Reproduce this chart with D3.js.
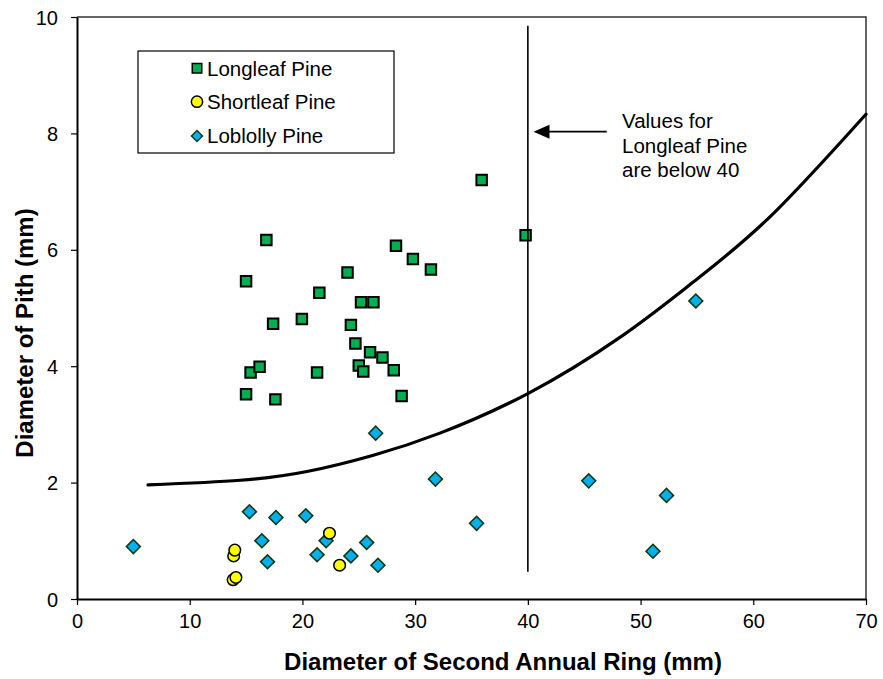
<!DOCTYPE html>
<html>
<head>
<meta charset="utf-8">
<script src="https://cdn.jsdelivr.net/npm/d3@7"></script>
<style>
  body { margin: 0; background: #fff; }
  svg { display: block; font-family: "Liberation Sans", Arial, sans-serif; }
</style>
</head>
<body>
<div id="chart"></div>
<script>
// values
var longleafX = [16.8, 15.0, 17.4, 19.95, 21.5, 24.0, 25.2, 26.3, 28.3, 29.8, 31.4, 24.3, 24.7, 26.0, 27.1, 25.0, 25.4, 28.1, 28.8, 15.4, 16.2, 21.3, 15.0, 17.6, 35.9, 39.8];
var longleafY = [6.17, 5.46, 4.73, 4.81, 5.26, 5.61, 5.10, 5.10, 6.07, 5.84, 5.66, 4.71, 4.39, 4.24, 4.15, 4.01, 3.91, 3.93, 3.49, 3.89, 3.99, 3.89, 3.52, 3.43, 7.20, 6.25];

var shortleafX = [13.9, 14.0, 13.85, 14.1, 22.4, 23.3];
var shortleafY = [0.74, 0.84, 0.33, 0.37, 1.13, 0.58];

var loblollyX = [5.0, 15.3, 17.65, 20.3, 16.4, 16.9, 22.1, 21.3, 24.3, 25.7, 26.7, 26.5, 31.8, 35.45, 45.4, 52.3, 51.1, 54.9];
var loblollyY = [0.90, 1.50, 1.40, 1.43, 1.00, 0.64, 1.00, 0.76, 0.74, 0.97, 0.58, 2.85, 2.06, 1.30, 2.03, 1.78, 0.82, 5.12];

// fitted curve
var curveX = [6.3, 14.5, 20.4, 26.3, 32.2, 40.0, 48.2, 54.7, 61.5, 70.0];
var curveY = [1.96, 2.04, 2.19, 2.47, 2.85, 3.53, 4.50, 5.45, 6.57, 8.33];

var xTicks = [0, 10, 20, 30, 40, 50, 60, 70];
var yTicks = [0, 2, 4, 6, 8, 10];

var seriesNames = ["Longleaf Pine", "Shortleaf Pine", "Loblolly Pine"];
var noteLines = ["Values for", "Longleaf Pine", "are below 40"];
var cutoffX = 40;

var width = 883, height = 679;
var margin = { top: 17, right: 17, bottom: 80, left: 77 };

var svg = d3.select("#chart").append("svg")
    .attr("width", width)
    .attr("height", height);

var x = d3.scaleLinear().domain([0, 70]).range([margin.left, width - margin.right]);
var y = d3.scaleLinear().domain([0, 10]).range([height - margin.bottom, margin.top]);

// frame top / right
svg.append("path")
    .attr("d", "M" + x(0) + "," + y(10) + "H" + x(70) + "V" + y(0))
    .attr("fill", "none")
    .attr("stroke", "#333")
    .attr("stroke-width", 1.5);

var xAxis = svg.append("g")
    .attr("transform", "translate(0," + y(0) + ")")
    .call(d3.axisBottom(x).tickValues(xTicks).tickSize(6).tickSizeOuter(0).tickPadding(9));
var yAxis = svg.append("g")
    .attr("transform", "translate(" + x(0) + ",0)")
    .call(d3.axisLeft(y).tickValues(yTicks).tickSize(6).tickSizeOuter(0).tickPadding(13));

[xAxis, yAxis].forEach(function (g) {
    g.select(".domain").attr("stroke", "#000").attr("stroke-width", 2);
    g.selectAll(".tick line").attr("stroke", "#000").attr("stroke-width", 1.2);
    g.selectAll(".tick text")
        .attr("fill", "#000")
        .style("font-family", "'Liberation Sans', Arial, sans-serif")
        .style("font-size", "20px");
});
yAxis.selectAll(".tick text").attr("dy", "0.35em");

svg.append("text")
    .attr("x", 503)
    .attr("y", 670)
    .attr("text-anchor", "middle")
    .style("font-size", "24px")
    .style("font-weight", "bold")
    .text("Diameter of Second Annual Ring (mm)");

svg.append("text")
    .attr("transform", "translate(33,333) rotate(-90)")
    .attr("text-anchor", "middle")
    .style("font-size", "24px")
    .style("font-weight", "bold")
    .text("Diameter of Pith (mm)");

// curve
var line = d3.line()
    .x(function (d) { return x(d[0]); })
    .y(function (d) { return y(d[1]); })
    .curve(d3.curveNatural);
svg.append("path")
    .datum(curveX.map(function (v, i) { return [v, curveY[i]]; }))
    .attr("d", line)
    .attr("fill", "none")
    .attr("stroke", "#000")
    .attr("stroke-width", 3.2)
    .attr("stroke-linecap", "round");

var square = d3.symbol().type(d3.symbolSquare);
var circle = d3.symbol().type(d3.symbolCircle);
var diamond = d3.symbol().type(d3.symbolSquare);

svg.append("g").selectAll("path")
    .data(loblollyX.map(function (v, i) { return [v, loblollyY[i]]; }))
    .enter().append("path")
    .attr("d", diamond.size(96))
    .attr("transform", function (d) { return "translate(" + x(d[0]) + "," + y(d[1]) + ") rotate(45)"; })
    .attr("fill", "#00B0F0")
    .attr("stroke", "#0a3d12")
    .attr("stroke-width", 1.6);

svg.append("g").selectAll("path")
    .data(shortleafX.map(function (v, i) { return [v, shortleafY[i]]; }))
    .enter().append("path")
    .attr("d", circle.size(105))
    .attr("transform", function (d) { return "translate(" + x(d[0]) + "," + y(d[1]) + ")"; })
    .attr("fill", "#FFFF00")
    .attr("stroke", "#000")
    .attr("stroke-width", 1.5);

svg.append("g").selectAll("path")
    .data(longleafX.map(function (v, i) { return [v, longleafY[i]]; }))
    .enter().append("path")
    .attr("d", square.size(110))
    .attr("transform", function (d) { return "translate(" + x(d[0]) + "," + y(d[1]) + ")"; })
    .attr("fill", "#00B050")
    .attr("stroke", "#000")
    .attr("stroke-width", 2);

// cutoff line at 40
svg.append("line")
    .attr("x1", x(cutoffX)).attr("x2", x(cutoffX))
    .attr("y1", y(9.85)).attr("y2", y(0.47))
    .attr("stroke", "#000")
    .attr("stroke-width", 1.6);

// arrow + note
var ay = y(8.03);
svg.append("line")
    .attr("x1", x(47.0)).attr("x2", x(41.8))
    .attr("y1", ay).attr("y2", ay)
    .attr("stroke", "#000")
    .attr("stroke-width", 1.8);
svg.append("path")
    .attr("d", "M" + x(40.5) + "," + ay + "L" + (x(40.5) + 16) + "," + (ay - 7) + "L" + (x(40.5) + 16) + "," + (ay + 7) + "Z")
    .attr("fill", "#000");

svg.append("g").selectAll("text")
    .data(noteLines)
    .enter().append("text")
    .attr("x", 622)
    .attr("y", function (d, i) { return 128 + i * 24.5; })
    .style("font-size", "20.5px")
    .text(function (d) { return d; });

// legend
var legend = svg.append("g");
legend.append("rect")
    .attr("x", 138).attr("y", 51)
    .attr("width", 256).attr("height", 102)
    .attr("fill", "#fff")
    .attr("stroke", "#000")
    .attr("stroke-width", 1.2);
var legendSymbols = [
    { d: square.size(90)(), fill: "#00B050", stroke: "#000", rot: 0 },
    { d: circle.size(100)(), fill: "#FFFF00", stroke: "#000", rot: 0 },
    { d: diamond.size(60)(), fill: "#00B0F0", stroke: "#0a3d12", rot: 45 }
];
var rowY = [68.3, 101.7, 136];
seriesNames.forEach(function (name, i) {
    legend.append("path")
        .attr("d", legendSymbols[i].d)
        .attr("transform", "translate(197," + rowY[i] + ") rotate(" + legendSymbols[i].rot + ")")
        .attr("fill", legendSymbols[i].fill)
        .attr("stroke", legendSymbols[i].stroke)
        .attr("stroke-width", 1.5);
    legend.append("text")
        .attr("x", 207)
        .attr("y", rowY[i])
        .attr("dy", "0.36em")
        .style("font-size", "20.5px")
        .text(name);
});
</script>
</body>
</html>
